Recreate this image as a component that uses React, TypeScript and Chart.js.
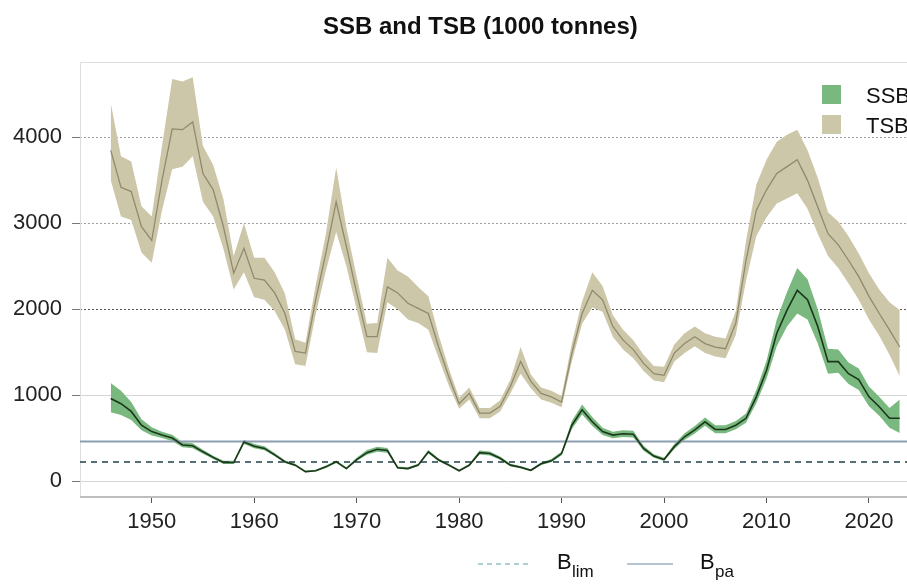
import React, { useEffect, useRef } from "react";
import { Chart, registerables } from "chart.js";

Chart.register(...registerables);

const years = [
  1946, 1947, 1948, 1949, 1950, 1951, 1952, 1953, 1954, 1955, 1956, 1957, 1958, 1959,
  1960, 1961, 1962, 1963, 1964, 1965, 1966, 1967, 1968, 1969, 1970, 1971, 1972, 1973,
  1974, 1975, 1976, 1977, 1978, 1979, 1980, 1981, 1982, 1983, 1984, 1985, 1986, 1987,
  1988, 1989, 1990, 1991, 1992, 1993, 1994, 1995, 1996, 1997, 1998, 1999, 2000, 2001,
  2002, 2003, 2004, 2005, 2006, 2007, 2008, 2009, 2010, 2011, 2012, 2013, 2014, 2015,
  2016, 2017, 2018, 2019, 2020, 2021, 2022, 2023,
];

const tsbMid = [
  3850, 3420, 3370, 2960, 2800, 3500, 4100, 4090, 4180, 3580, 3390, 2960, 2420, 2710,
  2360, 2340, 2190, 1950, 1510, 1490, 2110, 2660, 3250, 2730, 2190, 1680, 1680, 2260,
  2190, 2070, 2010, 1950, 1560, 1210, 900, 1020, 790, 790, 870, 1100, 1390, 1160,
  1020, 980, 920, 1490, 1950, 2220, 2110, 1800, 1640, 1530, 1370, 1250, 1230, 1490,
  1600, 1680, 1600, 1560, 1540, 1840, 2570, 3150, 3390, 3580, 3660, 3740, 3500, 3190,
  2880, 2750, 2570, 2380, 2150, 1950, 1760, 1560,
];

const tsbHigh = [
  4400, 3780, 3720, 3200, 3080, 3900, 4680, 4650, 4700, 3900, 3680, 3280, 2620, 3000,
  2600, 2600, 2430, 2180, 1650, 1610, 2280, 2880, 3650, 2950, 2380, 1830, 1840, 2600,
  2450, 2380, 2260, 2150, 1700, 1310, 970, 1090, 850, 850, 940, 1180, 1560, 1240,
  1090, 1050, 990, 1600, 2090, 2430, 2270, 1930, 1760, 1640, 1470, 1340, 1330, 1590,
  1720, 1800, 1720, 1680, 1660, 1980, 2800, 3450, 3740, 3950, 4030, 4090, 3850, 3530,
  3130, 3020, 2850, 2650, 2420, 2230, 2080, 1990,
];

const tsbLow = [
  3500, 3080, 3040, 2660, 2540, 3150, 3630, 3660, 3780, 3250, 3080, 2700, 2230, 2430,
  2140, 2110, 1980, 1760, 1360, 1340, 1940, 2450, 2900, 2500, 2000, 1500, 1490, 2080,
  2000, 1880, 1840, 1760, 1430, 1110, 840, 950, 730, 730, 810, 1020, 1250, 1080,
  950, 910, 860, 1390, 1830, 2020, 1970, 1680, 1530, 1430, 1280, 1170, 1150, 1390,
  1490, 1570, 1490, 1450, 1430, 1700, 2330, 2850, 3070, 3230, 3290, 3350, 3170, 2880,
  2620, 2480, 2300, 2110, 1880, 1690, 1470, 1220,
];

const ssbMid = [
  960, 900, 810, 650, 575, 535, 500, 420, 410, 340, 275, 215, 215, 455,
  405, 380, 305, 225, 185, 110, 120, 165, 225, 145, 250, 330, 370, 355,
  155, 145, 185, 340, 245, 185, 120, 185, 330, 320, 265, 185, 160, 125,
  200, 235, 320, 650, 830, 690, 575, 535, 550, 545, 380, 290, 250, 400,
  515, 595, 690, 600, 600, 650, 730, 980, 1290, 1720, 1990, 2220, 2110, 1800,
  1390, 1390, 1250, 1180, 980, 865, 730, 730,
];

const ssbHigh = [
  1140, 1050, 920, 720, 625, 575, 540, 450, 440, 365, 295, 235, 235, 480,
  430, 405, 325, 240, 200, 120, 132, 180, 240, 160, 270, 360, 400, 385,
  170, 160, 200, 360, 262, 200, 132, 200, 355, 345, 285, 200, 175, 138,
  215, 255, 345, 700, 890, 745, 620, 575, 590, 585, 410, 312, 270, 430,
  555, 640, 740, 650, 650, 700, 785, 1060, 1400, 1880, 2200, 2480, 2350, 2000,
  1540, 1530, 1380, 1310, 1100, 980, 850, 950,
];

const ssbLow = [
  800, 770, 710, 590, 530, 500, 465, 392, 382, 318, 257, 198, 198, 430,
  382, 358, 287, 210, 172, 100, 110, 152, 210, 133, 233, 305, 342, 328,
  142, 133, 172, 320, 230, 172, 110, 172, 308, 298, 247, 172, 147, 114,
  186, 218, 300, 605, 775, 640, 535, 498, 512, 508, 352, 270, 232, 372,
  478, 553, 642, 556, 556, 603, 678, 905, 1190, 1570, 1800, 1950, 1880, 1600,
  1250, 1260, 1130, 1060, 870, 760, 620, 560,
];

const yTicks = [0, 1000, 2000, 3000, 4000];
const xTicks = [1950, 1960, 1970, 1980, 1990, 2000, 2010, 2020];
const bLim = 220;
const bPa = 460;

const titleText = "SSB and TSB (1000 tonnes)";
const legendLabels = ["SSB", "TSB"];

const FONT = '"Liberation Sans", Arial, Helvetica, sans-serif';
const TSB_BAND = "#cdc7a9";
const TSB_LINE = "#8f8a6e";
const SSB_BAND = "#79b97f";
const SSB_LINE = "#1c361c";
const BPA_COLOR = "#8c9db0";
const BLIM_COLOR = "#1f3f4a";
const BLIM_LEGEND = "#5f9ea3";
const BPA_LEGEND = "#9fb2c0";

const toPts = (vals: number[]) => years.map((yr, i) => ({ x: yr, y: vals[i] }));

const customPlugin = {
  id: "customDraw",
  beforeDatasetsDraw(chart: any) {
    const { ctx, chartArea: a, scales } = chart;
    const ys = scales.y;
    ctx.save();
    yTicks.forEach((v) => {
      const py = Math.round(ys.getPixelForValue(v)) + 0.5;
      ctx.beginPath();
      if (v >= 3000) {
        ctx.strokeStyle = "#a0a0a0";
        ctx.setLineDash([2, 2]);
      } else if (v === 2000) {
        ctx.strokeStyle = "#555555";
        ctx.setLineDash([2, 2]);
      } else {
        ctx.strokeStyle = "#d6d6d6";
        ctx.setLineDash([]);
      }
      ctx.lineWidth = 1;
      ctx.moveTo(a.left, py);
      ctx.lineTo(a.right, py);
      ctx.stroke();
    });
    ctx.setLineDash([]);
    ctx.strokeStyle = "#dedede";
    ctx.lineWidth = 1;
    ctx.beginPath();
    ctx.moveTo(a.left + 0.5, a.bottom);
    ctx.lineTo(a.left + 0.5, a.top + 0.5);
    ctx.lineTo(a.right, a.top + 0.5);
    ctx.stroke();
    ctx.restore();
  },
  afterDatasetDraw(chart: any, args: any) {
    if (args.index !== 3) return;
    const { ctx, chartArea: a, scales } = chart;
    const ys = scales.y;
    ctx.save();
    const pyPa = ys.getPixelForValue(bPa);
    ctx.strokeStyle = BPA_COLOR;
    ctx.lineWidth = 2;
    ctx.beginPath();
    ctx.moveTo(a.left, pyPa);
    ctx.lineTo(a.right, pyPa);
    ctx.stroke();
    const pyLim = ys.getPixelForValue(bLim);
    ctx.strokeStyle = BLIM_COLOR;
    ctx.lineWidth = 1.5;
    ctx.setLineDash([6, 5]);
    ctx.beginPath();
    ctx.moveTo(a.left, pyLim);
    ctx.lineTo(a.right, pyLim);
    ctx.stroke();
    ctx.restore();
  },
  afterDraw(chart: any) {
    const { ctx, chartArea: a } = chart;
    ctx.save();
    ctx.strokeStyle = "#bdbdbd";
    ctx.lineWidth = 2;
    ctx.beginPath();
    ctx.moveTo(a.left, a.bottom);
    ctx.lineTo(a.right, a.bottom);
    ctx.stroke();

    ctx.fillStyle = "#111111";
    ctx.font = `bold 24px ${FONT}`;
    ctx.textAlign = "left";
    ctx.textBaseline = "alphabetic";
    ctx.fillText(titleText, 323, 34);

    const legendColors = [SSB_BAND, TSB_BAND];
    ctx.font = `22px ${FONT}`;
    legendLabels.forEach((lab, i) => {
      const top = 85 + i * 30;
      ctx.fillStyle = legendColors[i];
      ctx.fillRect(822, top, 19, 19);
      ctx.fillStyle = "#111111";
      ctx.fillText(lab, 866, top + 18);
    });

    ctx.strokeStyle = BLIM_LEGEND;
    ctx.lineWidth = 1;
    ctx.setLineDash([5, 4]);
    ctx.beginPath();
    ctx.moveTo(478, 564);
    ctx.lineTo(528, 564);
    ctx.stroke();
    ctx.setLineDash([]);
    ctx.strokeStyle = BPA_LEGEND;
    ctx.lineWidth = 1.5;
    ctx.beginPath();
    ctx.moveTo(627, 564);
    ctx.lineTo(673, 564);
    ctx.stroke();

    ctx.fillStyle = "#111111";
    ctx.font = `22px ${FONT}`;
    ctx.fillText("B", 557, 569);
    ctx.fillText("B", 700, 569);
    ctx.font = `17px ${FONT}`;
    ctx.fillText("lim", 572, 577);
    ctx.fillText("pa", 715, 577);
    ctx.restore();
  },
};

export default function App() {
  const canvasRef = useRef<HTMLCanvasElement | null>(null);

  useEffect(() => {
    const canvas = canvasRef.current;
    if (!canvas) return;
    const chart = new Chart(canvas, {
      type: "line",
      data: {
        datasets: [
          { label: "TSB low", data: toPts(tsbLow), borderWidth: 0, pointRadius: 0, fill: false, order: 50 },
          {
            label: "TSB high",
            data: toPts(tsbHigh),
            borderWidth: 0,
            pointRadius: 0,
            backgroundColor: TSB_BAND,
            fill: { target: 0 },
            order: 49,
          },
          { label: "SSB low", data: toPts(ssbLow), borderWidth: 0, pointRadius: 0, fill: false, order: 40 },
          {
            label: "SSB high",
            data: toPts(ssbHigh),
            borderWidth: 0,
            pointRadius: 0,
            backgroundColor: SSB_BAND,
            fill: { target: 2 },
            order: 39,
          },
          {
            label: "TSB",
            data: toPts(tsbMid),
            borderColor: TSB_LINE,
            borderWidth: 1.3,
            pointRadius: 0,
            fill: false,
            order: 20,
          },
          {
            label: "SSB",
            data: toPts(ssbMid),
            borderColor: SSB_LINE,
            borderWidth: 1.6,
            pointRadius: 0,
            fill: false,
            order: 10,
          },
        ],
      },
      options: {
        animation: false,
        responsive: false,
        devicePixelRatio: 1,
        layout: { padding: { left: 0, right: 18.5, top: 62, bottom: 0 } },
        plugins: {
          legend: { display: false },
          title: { display: false },
          tooltip: { enabled: false },
          filler: { propagate: false },
        },
        elements: { line: { tension: 0 } },
        scales: {
          x: {
            type: "linear",
            min: 1943.0,
            max: 2026.1,
            afterFit: (s: any) => {
              s.height = 87;
            },
            afterBuildTicks: (s: any) => {
              s.ticks = xTicks.map((v) => ({ value: v }));
            },
            grid: {
              display: true,
              drawOnChartArea: false,
              drawTicks: true,
              tickLength: 6,
              color: "#555555",
            },
            border: { display: false },
            ticks: {
              autoSkip: false,
              maxRotation: 0,
              padding: 6,
              color: "#222222",
              font: { family: FONT, size: 22 },
              callback: (v: any) => String(v),
            },
          },
          y: {
            type: "linear",
            min: -186,
            max: 4878,
            afterFit: (s: any) => {
              s.width = 80;
            },
            afterBuildTicks: (s: any) => {
              s.ticks = yTicks.map((v) => ({ value: v }));
            },
            grid: {
              display: true,
              drawOnChartArea: false,
              drawTicks: true,
              tickLength: 8,
              color: "#777777",
            },
            border: { display: false },
            ticks: {
              padding: 10,
              color: "#222222",
              font: { family: FONT, size: 22 },
              callback: (v: any) => String(v),
            },
          },
        },
      },
      plugins: [customPlugin],
    });
    return () => chart.destroy();
  }, []);

  return (
    <div
      style={{
        position: "fixed",
        left: 0,
        top: 0,
        width: 907,
        height: 584,
        overflow: "hidden",
        background: "#ffffff",
      }}
    >
      <canvas
        ref={canvasRef}
        width={950}
        height={584}
        style={{ display: "block", width: 950, height: 584 }}
      />
    </div>
  );
}
